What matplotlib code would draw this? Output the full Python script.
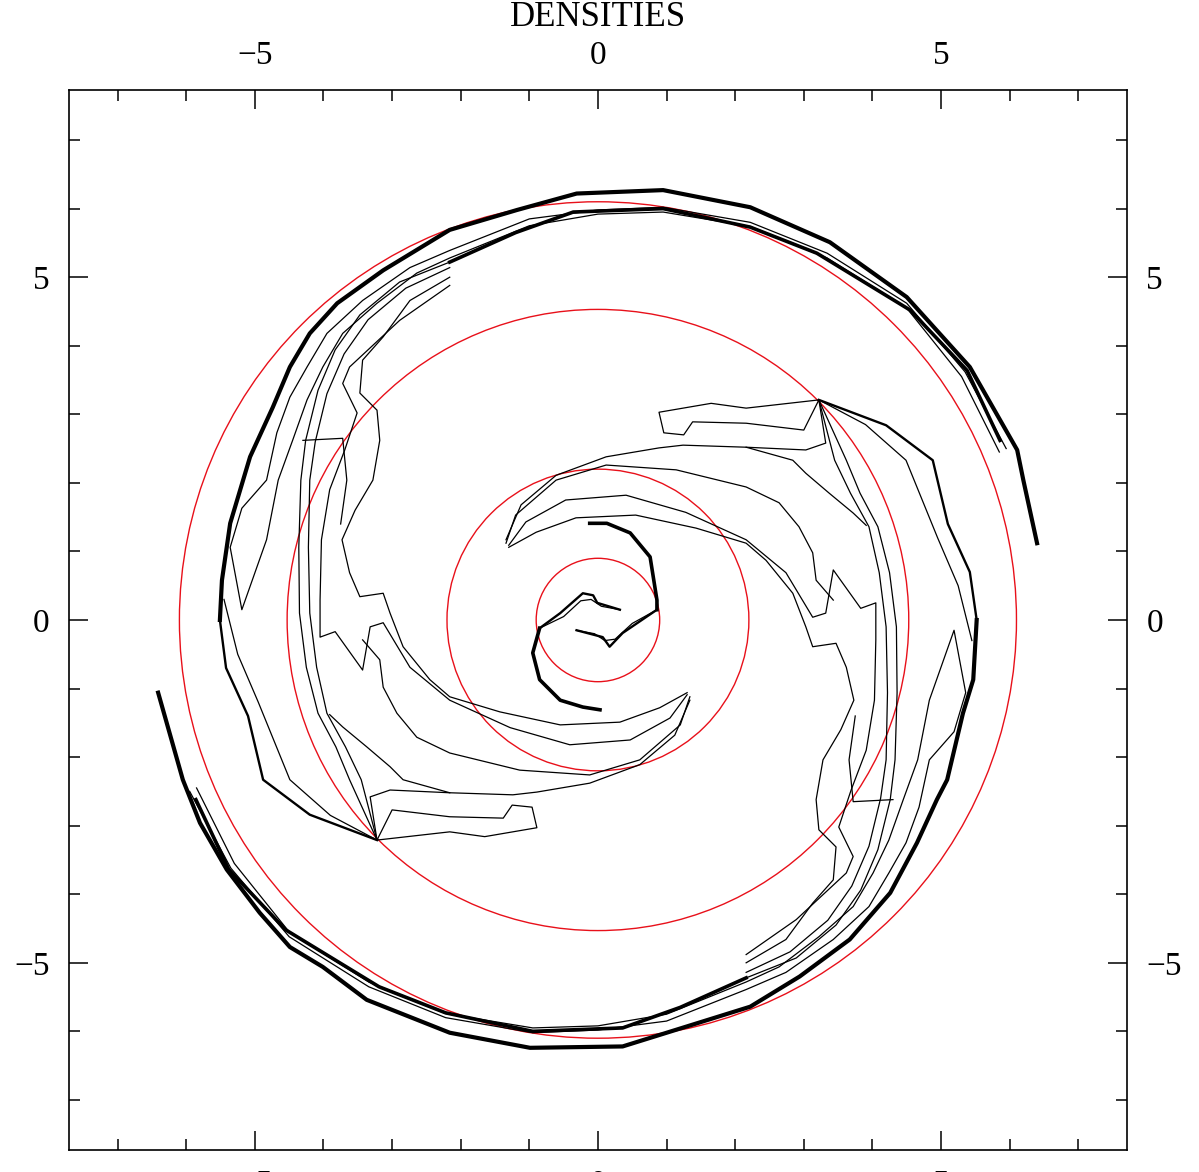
import matplotlib
matplotlib.use("Agg")
import matplotlib.pyplot as plt
from matplotlib.patches import Circle

# red reference circles (radius)
ring_radii = [0.9, 2.2, 4.53, 6.1]

# ---- outer thick contours ----
arm_a_outer = [(6.40, 1.12), (6.20, 2.04), (6.11, 2.48), (5.42, 3.69), (4.50, 4.71),
               (3.38, 5.51), (2.22, 6.02), (0.95, 6.27), (-0.31, 6.22), (-1.18, 5.98),
               (-2.16, 5.69), (-3.13, 5.10), (-3.80, 4.62), (-4.20, 4.18), (-4.49, 3.69),
               (-4.74, 3.10), (-5.07, 2.38), (-5.36, 1.41), (-5.48, 0.58), (-5.51, 0.00)]
arm_b_outer = [(-6.41, -1.06), (-6.05, -2.33), (-5.80, -2.96), (-5.41, -3.64), (-4.93, -4.27),
               (-4.49, -4.77), (-4.01, -5.06), (-3.37, -5.54), (-2.16, -6.02), (-0.99, -6.24),
               (0.36, -6.22), (2.22, -5.64), (2.94, -5.20), (3.67, -4.66), (4.26, -3.98),
               (4.65, -3.25), (4.94, -2.62), (5.09, -2.33), (5.32, -1.36), (5.47, -0.87),
               (5.52, 0.00)]

# packed contours just inside the outer ones
top_inner = [(5.86, 2.62), (5.38, 3.64), (4.55, 4.52), (3.19, 5.35), (2.22, 5.73),
             (0.95, 6.00), (-0.36, 5.95), (-1.20, 5.65), (-2.16, 5.22)]
bot_inner = [(-5.86, -2.62), (-5.38, -3.64), (-4.55, -4.52), (-3.19, -5.35), (-2.22, -5.73),
             (-0.95, -6.00), (0.36, -5.95), (1.20, -5.65), (2.16, -5.22)]

# tails of the outer contours, running into the kinks
tail_a_1 = [(-5.51, 0.00), (-5.42, -0.70), (-5.10, -1.40), (-4.88, -2.33), (-4.20, -2.84),
            (-3.22, -3.21)]
tail_a_2 = [(-5.45, 0.30), (-5.25, -0.50), (-4.95, -1.20), (-4.49, -2.33), (-3.90, -2.85),
            (-3.22, -3.21)]
tail_b_1 = [(5.52, 0.00), (5.42, 0.70), (5.10, 1.40), (4.88, 2.33), (4.20, 2.84), (3.22, 3.21)]
tail_b_2 = [(5.45, -0.30), (5.25, 0.50), (4.95, 1.20), (4.49, 2.33), (3.90, 2.85), (3.22, 3.21)]

# tongues on the left and right side
tongue_l = [(5.95, 2.50), (5.35, 3.62), (4.50, 4.62), (3.34, 5.35), (2.22, 5.80), (0.95, 6.02),
            (0.00, 5.98), (-1.00, 5.85), (-2.16, 5.39), (-2.74, 5.14), (-3.43, 4.66),
            (-3.95, 4.18), (-4.24, 3.69), (-4.49, 3.25), (-4.68, 2.73), (-4.83, 2.04),
            (-5.19, 1.63), (-5.36, 1.06), (-5.19, 0.15), (-4.83, 1.17), (-4.66, 2.04),
            (-4.45, 2.62), (-4.24, 3.21), (-4.01, 3.69), (-3.72, 4.18), (-3.22, 4.62),
            (-2.64, 5.06), (-2.16, 5.28), (-1.00, 5.75), (0.00, 5.92), (0.95, 5.95),
            (2.22, 5.74), (3.34, 5.28), (4.50, 4.55), (5.30, 3.55), (5.85, 2.45)]
tongue_r = [(-5.95, -2.50), (-5.35, -3.62), (-4.50, -4.62), (-3.34, -5.35), (-2.22, -5.80),
            (-0.95, -6.02), (0.00, -5.98), (1.00, -5.85), (2.16, -5.39), (2.74, -5.14),
            (3.43, -4.66), (3.95, -4.18), (4.24, -3.69), (4.49, -3.25), (4.68, -2.73),
            (4.83, -2.04), (5.19, -1.63), (5.36, -1.06), (5.19, -0.15), (4.83, -1.17),
            (4.66, -2.04), (4.45, -2.62), (4.24, -3.21), (4.01, -3.69), (3.72, -4.18),
            (3.22, -4.62), (2.64, -5.06), (2.16, -5.28), (1.00, -5.75), (0.00, -5.92),
            (-0.95, -5.95), (-2.22, -5.74), (-3.34, -5.28), (-4.50, -4.55), (-5.30, -3.55),
            (-5.85, -2.45)]

# ---- side lines running into the kinks ----
left_side_1 = [(-2.16, 5.22), (-2.89, 4.93), (-3.47, 4.45), (-3.83, 3.94), (-4.08, 3.35),
               (-4.26, 2.62), (-4.33, 2.04), (-4.36, 1.06), (-4.35, 0.10), (-4.25, -0.69),
               (-4.08, -1.36), (-3.82, -1.85), (-3.62, -2.33), (-3.22, -3.21)]
left_side_2 = [(-2.16, 5.14), (-2.80, 4.84), (-3.35, 4.38), (-3.70, 3.88), (-3.95, 3.30),
               (-4.12, 2.60), (-4.20, 2.04), (-4.22, 1.06), (-4.20, 0.10), (-4.10, -0.69),
               (-3.95, -1.36), (-3.68, -1.85), (-3.45, -2.33), (-3.22, -3.21)]
right_side_1 = [(2.16, -5.22), (2.89, -4.93), (3.47, -4.45), (3.83, -3.94), (4.08, -3.35),
                (4.26, -2.62), (4.33, -2.04), (4.36, -1.06), (4.35, -0.10), (4.25, 0.69),
                (4.08, 1.36), (3.82, 1.85), (3.62, 2.33), (3.22, 3.21)]
right_side_2 = [(2.16, -5.14), (2.80, -4.84), (3.35, -4.38), (3.70, -3.88), (3.95, -3.30),
                (4.12, -2.60), (4.20, -2.04), (4.22, -1.06), (4.20, -0.10), (4.10, 0.69),
                (3.95, 1.36), (3.68, 1.85), (3.45, 2.33), (3.22, 3.21)]

# small step contours
left_step = [(-4.30, 2.62), (-3.72, 2.65), (-3.66, 2.04), (-3.75, 1.40)]
right_step = [(4.30, -2.62), (3.72, -2.65), (3.66, -2.04), (3.75, -1.40)]

# ---- jagged lines winding into the middle arms ----
left_zig_1 = [(-2.16, 5.00), (-2.74, 4.66), (-3.13, 4.13), (-3.43, 3.79), (-3.47, 3.31),
              (-3.22, 3.06), (-3.18, 2.62), (-3.28, 2.04), (-3.54, 1.60), (-3.73, 1.17),
              (-3.62, 0.69), (-3.47, 0.34), (-3.13, 0.39), (-3.03, 0.10), (-2.84, -0.39),
              (-2.45, -0.87), (-2.16, -1.12), (-1.43, -1.34), (-0.55, -1.53), (0.32, -1.49),
              (0.90, -1.28), (1.30, -1.06)]
left_zig_2 = [(-2.16, 4.88), (-2.89, 4.37), (-3.62, 3.69), (-3.72, 3.45), (-3.51, 3.02),
              (-3.69, 2.48), (-3.91, 1.90), (-4.03, 1.17), (-4.05, 0.29), (-4.05, -0.25),
              (-3.83, -0.17), (-3.43, -0.73), (-3.32, -0.10), (-3.13, -0.04), (-2.74, -0.69),
              (-2.16, -1.17), (-1.28, -1.57), (-0.41, -1.82), (0.47, -1.75), (1.05, -1.43),
              (1.30, -1.09)]
left_zig_3 = [(-3.43, -0.29), (-3.18, -0.58), (-3.13, -0.98), (-2.93, -1.36), (-2.64, -1.71),
              (-2.16, -1.94), (-1.14, -2.19), (-0.12, -2.26), (0.61, -2.04), (1.20, -1.53),
              (1.34, -1.12)]
left_zig_4 = [(-3.91, -1.38), (-3.72, -1.56), (-3.37, -1.85), (-3.03, -2.14), (-2.84, -2.33),
              (-2.16, -2.52), (-1.24, -2.55), (-0.89, -2.51), (-0.12, -2.38), (0.61, -2.11),
              (1.12, -1.68), (1.34, -1.17)]
left_kink = [(-3.22, -3.21), (-3.32, -2.58), (-3.03, -2.48), (-2.16, -2.52)]
left_loop = [(-3.22, -3.21), (-2.16, -3.09), (-1.65, -3.16), (-0.89, -3.03), (-0.96, -2.73),
             (-1.25, -2.70), (-1.38, -2.89), (-2.16, -2.87), (-3.00, -2.77), (-3.22, -3.21)]

right_zig_1 = [(2.16, -5.00), (2.74, -4.66), (3.13, -4.13), (3.43, -3.79), (3.47, -3.31),
               (3.22, -3.06), (3.18, -2.62), (3.28, -2.04), (3.54, -1.60), (3.73, -1.17),
               (3.62, -0.69), (3.47, -0.34), (3.13, -0.39), (3.03, -0.10), (2.84, 0.39),
               (2.45, 0.87), (2.16, 1.12), (1.43, 1.34), (0.55, 1.53), (-0.32, 1.49),
               (-0.90, 1.28), (-1.30, 1.06)]
right_zig_2 = [(2.16, -4.88), (2.89, -4.37), (3.62, -3.69), (3.72, -3.45), (3.51, -3.02),
               (3.69, -2.48), (3.91, -1.90), (4.03, -1.17), (4.05, -0.29), (4.05, 0.25),
               (3.83, 0.17), (3.43, 0.73), (3.32, 0.10), (3.13, 0.04), (2.74, 0.69),
               (2.16, 1.17), (1.28, 1.57), (0.41, 1.82), (-0.47, 1.75), (-1.05, 1.43),
               (-1.30, 1.09)]
right_zig_3 = [(3.43, 0.29), (3.18, 0.58), (3.13, 0.98), (2.93, 1.36), (2.64, 1.71),
               (2.16, 1.94), (1.14, 2.19), (0.12, 2.26), (-0.61, 2.04), (-1.20, 1.53),
               (-1.34, 1.12)]
right_zig_4 = [(3.91, 1.38), (3.72, 1.56), (3.37, 1.85), (3.03, 2.14), (2.84, 2.33),
               (2.16, 2.52), (1.24, 2.55), (0.89, 2.51), (0.12, 2.38), (-0.61, 2.11),
               (-1.12, 1.68), (-1.34, 1.17)]
right_kink = [(3.22, 3.21), (3.32, 2.58), (3.03, 2.48), (2.16, 2.52)]
right_loop = [(3.22, 3.21), (2.16, 3.09), (1.65, 3.16), (0.89, 3.03), (0.96, 2.73),
              (1.25, 2.70), (1.38, 2.89), (2.16, 2.87), (3.00, 2.77), (3.22, 3.21)]

# ---- inner S ----
core_up = [(0.86, 0.15), (0.86, 0.29), (0.76, 0.92), (0.47, 1.27), (0.13, 1.41), (-0.12, 1.41)]
core_dn = [(-0.85, -0.12), (-0.95, -0.48), (-0.85, -0.87), (-0.55, -1.17), (-0.22, -1.27),
           (0.03, -1.31)]
core_bar_1 = [(-0.85, -0.12), (-0.55, 0.10), (-0.22, 0.39), (-0.07, 0.36), (-0.01, 0.25),
              (0.32, 0.15)]
core_bar_1b = [(-0.85, -0.12), (-0.50, 0.05), (-0.25, 0.28), (-0.10, 0.30), (0.05, 0.20),
               (0.32, 0.15)]
core_bar_2 = [(-0.31, -0.15), (0.07, -0.25), (0.17, -0.39), (0.36, -0.19), (0.86, 0.15)]
core_bar_2b = [(0.86, 0.15), (0.50, -0.05), (0.25, -0.28), (0.10, -0.30), (-0.05, -0.20),
               (-0.32, -0.15)]

thick_lines = [arm_a_outer, arm_b_outer]
packed_lines = [top_inner, bot_inner, core_up, core_dn]
medium_lines = [tail_a_1, tail_b_1, core_bar_1, core_bar_2]
thin_lines = [tail_a_2, tail_b_2, tongue_l, tongue_r,
              left_side_1, left_side_2, right_side_1, right_side_2, left_step, right_step,
              left_zig_1, left_zig_2, left_zig_3, left_zig_4, left_kink, left_loop,
              right_zig_1, right_zig_2, right_zig_3, right_zig_4, right_kink, right_loop,
              core_bar_1b, core_bar_2b]

plt.rcParams['font.family'] = ['Liberation Serif', 'DejaVu Serif']
fig = plt.figure(figsize=(11.99, 11.72), dpi=100)
ax = fig.add_axes([0.0575, 0.0188, 0.8824, 0.9044])

for r in ring_radii:
    ax.add_patch(Circle((0.0, 0.0), r, fill=False, edgecolor='#e8101a', lw=1.0))

def draw(lines, lw):
    for line in lines:
        ax.plot([p[0] for p in line], [p[1] for p in line], color='black', lw=lw)

draw(thick_lines, 3.0)
draw(packed_lines, 2.6)
draw(medium_lines, 1.7)
draw(thin_lines, 0.9)

ax.set_xlim(-7.71, 7.71)
ax.set_ylim(-7.73, 7.73)
ax.set_xticks([-5, 0, 5])
ax.set_yticks([-5, 0, 5])
ax.set_xticks(range(-7, 8), minor=True)
ax.set_yticks(range(-7, 8), minor=True)
ax.tick_params(which='both', direction='in', top=True, right=True,
               labeltop=True, labelright=True, labelbottom=True, labelleft=True,
               labelsize=24, width=1.1)
ax.tick_params(which='major', length=14, pad=14)
ax.tick_params(which='minor', length=8)
for s in ax.spines.values():
    s.set_linewidth(1.2)

fig.text(0.4988, 0.985, 'DENSITIES', ha='center', va='center', fontsize=25)

fig.savefig('out.png', dpi=100)
